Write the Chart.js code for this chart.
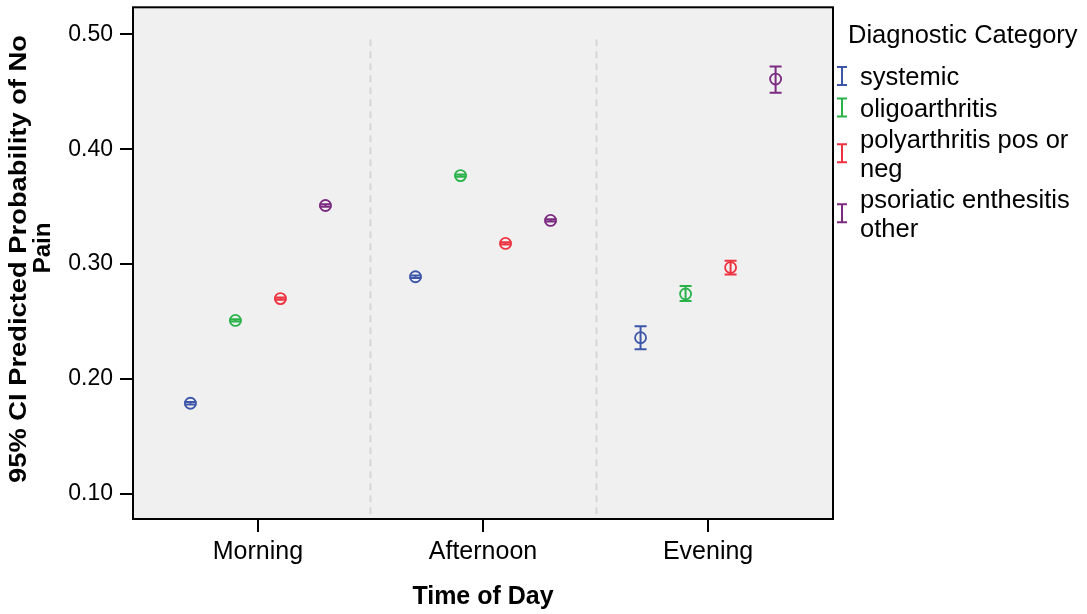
<!DOCTYPE html>
<html>
<head>
<meta charset="utf-8">
<script src="https://cdn.jsdelivr.net/npm/chart.js@4.4.1/dist/chart.umd.min.js"></script>
<style>
html, body { margin: 0; padding: 0; background: #fff; }
</style>
</head>
<body>
<canvas id="ErrorChart" width="1087" height="614"></canvas>
<script>
// Categories on the x axis
const timeLabels = ["Morning", "Afternoon", "Evening"];
// Diagnostic groups (legend), wrapped as in the original legend
const groupNames = ["systemic", "oligoarthritis", "polyarthritis pos or neg", "psoriatic enthesitis other"];
const legendLines = [["systemic"], ["oligoarthritis"], ["polyarthritis pos or", "neg"], ["psoriatic enthesitis", "other"]];
const groupColors = ["#3d56a9", "#2bb34b", "#ee3340", "#7b2b80"];

// Predicted probability of no pain, per time of day
const systemicMean = [0.179, 0.289, 0.236];
const systemicLow = [0.178, 0.288, 0.226];
const systemicHigh = [0.180, 0.290, 0.246];

const oligoMean = [0.251, 0.377, 0.274];
const oligoLow = [0.250, 0.376, 0.268];
const oligoHigh = [0.252, 0.378, 0.281];

const polyMean = [0.270, 0.318, 0.297];
const polyLow = [0.269, 0.317, 0.291];
const polyHigh = [0.271, 0.319, 0.303];

const psorMean = [0.351, 0.338, 0.461];
const psorLow = [0.350, 0.337, 0.449];
const psorHigh = [0.352, 0.339, 0.472];

const yTicks = [0.10, 0.20, 0.30, 0.40, 0.50];

const means = [systemicMean, oligoMean, polyMean, psorMean];
const lows = [systemicLow, oligoLow, polyLow, psorLow];
const highs = [systemicHigh, oligoHigh, polyHigh, psorHigh];

// horizontal dodge of each group inside a time-of-day slot
const DODGE = [-0.3, -0.1, 0.1, 0.3];
const FONT = "'Liberation Sans', Arial, sans-serif";

var datasets = groupNames.map(function(name, g) {
    return {
        label: name,
        data: timeLabels.map(function(t, i) { return { x: i + 1 + DODGE[g], y: means[g][i] }; }),
        low: lows[g],
        high: highs[g],
        borderColor: groupColors[g],
        backgroundColor: "rgba(0,0,0,0)",
        pointRadius: 5.5,
        pointBorderWidth: 1.8,
        showLine: false
    };
});

// Background, separators, error bars, frame, legend and titles
const decorPlugin = {
    id: "decor",
    beforeDatasetsDraw: function(chart) {
        var ctx = chart.ctx, a = chart.chartArea, xs = chart.scales.x;
        ctx.save();
        ctx.fillStyle = "#f0f0f0";
        ctx.fillRect(a.left, a.top, a.right - a.left, a.bottom - a.top);
        // dashed separators between time-of-day slots
        ctx.strokeStyle = "#d6d6d6";
        ctx.lineWidth = 2;
        ctx.setLineDash([7, 5]);
        for (var i = 1; i < timeLabels.length; i++) {
            var px = Math.round(xs.getPixelForValue(i + 0.5)) + 0.5;
            ctx.beginPath();
            ctx.moveTo(px, a.top + 32);
            ctx.lineTo(px, a.bottom - 4);
            ctx.stroke();
        }
        ctx.setLineDash([]);
        // error bars
        var ys = chart.scales.y;
        chart.data.datasets.forEach(function(ds) {
            ctx.strokeStyle = ds.borderColor;
            ctx.lineWidth = 2;
            ds.data.forEach(function(p, i) {
                var px = xs.getPixelForValue(p.x);
                var y1 = ys.getPixelForValue(ds.low[i]);
                var y2 = ys.getPixelForValue(ds.high[i]);
                ctx.beginPath();
                ctx.moveTo(px, y1); ctx.lineTo(px, y2);
                ctx.moveTo(px - 6, y1); ctx.lineTo(px + 6, y1);
                ctx.moveTo(px - 6, y2); ctx.lineTo(px + 6, y2);
                ctx.stroke();
            });
        });
        ctx.restore();
    },
    afterDraw: function(chart) {
        var ctx = chart.ctx, a = chart.chartArea;
        ctx.save();
        // plot frame
        ctx.strokeStyle = "#000";
        ctx.lineWidth = 2;
        ctx.strokeRect(a.left, a.top, a.right - a.left, a.bottom - a.top);

        // legend
        ctx.fillStyle = "#000";
        ctx.font = "25.5px " + FONT;
        ctx.textAlign = "left";
        ctx.textBaseline = "alphabetic";
        ctx.fillText("Diagnostic Category", 848, 43);
        var base = 85, lineH = 28.5, gap = 3;
        legendLines.forEach(function(lines, g) {
            var first = base;
            lines.forEach(function(txt) {
                ctx.fillStyle = "#000";
                ctx.fillText(txt, 860, base);
                base += lineH;
            });
            var cy = (first + base - lineH) / 2 - 9;
            ctx.strokeStyle = groupColors[g];
            ctx.lineWidth = 2;
            ctx.beginPath();
            ctx.moveTo(842, cy - 9); ctx.lineTo(842, cy + 9);
            ctx.moveTo(837, cy - 9); ctx.lineTo(847, cy - 9);
            ctx.moveTo(837, cy + 9); ctx.lineTo(847, cy + 9);
            ctx.stroke();
            base += gap;
        });

        // axis titles
        ctx.fillStyle = "#000";
        ctx.font = "bold 25px " + FONT;
        ctx.textAlign = "center";
        ctx.fillText("Time of Day", (a.left + a.right) / 2, 604);

        ctx.font = "bold 24px " + FONT;
        ctx.textBaseline = "middle";
        var line1 = "95% CI Predicted Probability of No";
        var w = ctx.measureText(line1).width;
        ctx.save();
        ctx.translate(19, 259);
        ctx.rotate(-Math.PI / 2);
        ctx.scale(448 / w, 1);
        ctx.fillText(line1, 0, 0);
        ctx.restore();
        ctx.save();
        ctx.translate(43, 248);
        ctx.rotate(-Math.PI / 2);
        ctx.fillText("Pain", 0, 0);
        ctx.restore();
        ctx.restore();
    }
};

var chart = new Chart(document.getElementById("ErrorChart"), {
    type: "scatter",
    data: { datasets: datasets },
    options: {
        responsive: false,
        animation: false,
        devicePixelRatio: 1,
        layout: { padding: { top: 6, right: 254, left: 0, bottom: 0 } },
        plugins: { legend: { display: false }, tooltip: { enabled: false } },
        scales: {
            x: {
                type: "linear",
                min: 0.445,
                max: 3.555,
                afterBuildTicks: function(s) { s.ticks = timeLabels.map(function(t, i) { return { value: i + 1 }; }); },
                afterFit: function(s) { s.height = 95; s.paddingLeft = 0; s.paddingRight = 0; },
                ticks: {
                    callback: function(v) { return timeLabels[Math.round(v) - 1]; },
                    font: { size: 25, family: FONT },
                    color: "#000",
                    padding: 5,
                    autoSkip: false,
                    maxRotation: 0
                },
                grid: { drawOnChartArea: false, tickLength: 13, color: "#000", lineWidth: 2 },
                border: { display: false }
            },
            y: {
                min: 0.0783,
                max: 0.5234,
                afterBuildTicks: function(s) { s.ticks = yTicks.map(function(v) { return { value: v }; }); },
                afterFit: function(s) { s.width = 133; s.paddingTop = 0; s.paddingBottom = 0; },
                ticks: {
                    callback: function(v) { return v.toFixed(2); },
                    font: { size: 23, family: FONT },
                    color: "#000",
                    padding: 7
                },
                grid: { drawOnChartArea: false, tickLength: 13, color: "#000", lineWidth: 2 },
                border: { display: false }
            }
        }
    },
    plugins: [decorPlugin]
});
</script>
</body>
</html>
